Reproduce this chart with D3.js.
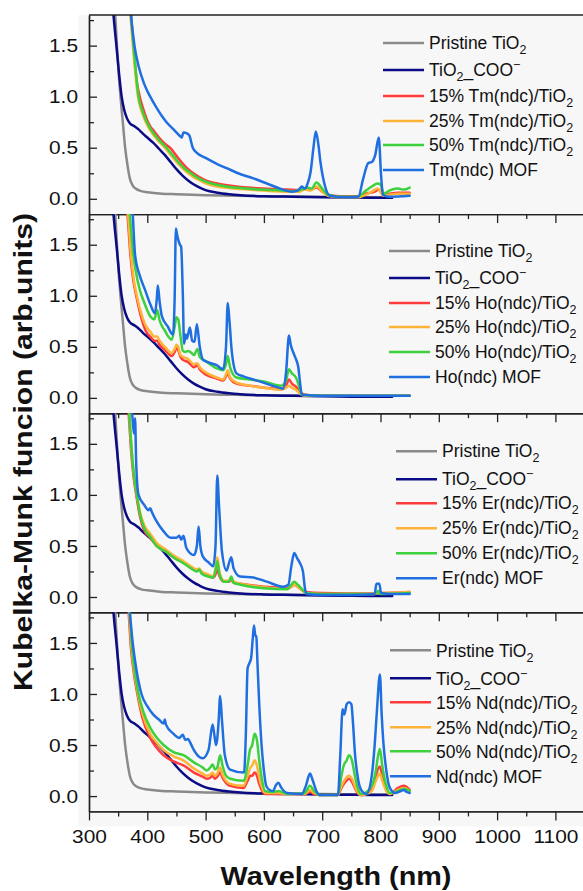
<!DOCTYPE html>
<html><head><meta charset="utf-8">
<script src="https://cdn.jsdelivr.net/npm/d3@7"></script>
<style>
html,body{margin:0;padding:0;background:#fff;}
svg{display:block;font-family:"Liberation Sans",Arial,sans-serif;}
</style>
</head><body>
<svg id="chart" width="583" height="891"></svg>
<script>
// ---------------- DATA (wavelength nm, Kubelka-Munk value) ----------------
const pristine = [[330,3.0],[340,2.3],[345,1.8],[348,1.5],[351,1.22],[354,1.0],[358,0.75],[362,0.5],[366,0.33],[370,0.2],[375,0.13],[380,0.1],[390,0.075],[400,0.065],[425,0.05],[450,0.045],[500,0.035],[550,0.03],[600,0.025],[700,0.02],[800,0.015],[820,0.015]];
const coo = [[330,3.0],[337,2.2],[342,1.8],[347,1.5],[352,1.2],[356,1.0],[360,0.88],[365,0.79],[370,0.74],[378,0.71],[385,0.68],[392,0.64],[400,0.6],[410,0.55],[420,0.49],[430,0.43],[440,0.36],[450,0.29],[460,0.23],[470,0.18],[480,0.14],[490,0.11],[500,0.085],[520,0.06],[540,0.045],[560,0.035],[600,0.025],[650,0.02],[700,0.015],[750,0.012],[800,0.01],[820,0.01]];

const tm15 = [[345,3.0],[360,2.4],[372,1.8],[377,1.45],[382,1.15],[387,1.0],[393,0.88],[399,0.78],[405,0.71],[412,0.66],[420,0.6],[430,0.54],[439,0.5],[450,0.42],[460,0.35],[470,0.29],[479,0.25],[490,0.21],[500,0.18],[520,0.15],[540,0.13],[560,0.115],[600,0.1],[640,0.09],[660,0.085],[670,0.1],[680,0.09],[690,0.11],[700,0.07],[710,0.04],[730,0.025],[760,0.025],[775,0.05],[790,0.07],[797,0.09],[805,0.04],[815,0.05],[830,0.06],[850,0.06]];
const tm25 = [[345,3.0],[360,2.4],[371,1.8],[376,1.45],[380,1.2],[384,1.0],[390,0.86],[396,0.77],[402,0.7],[410,0.63],[420,0.56],[430,0.5],[440,0.43],[450,0.36],[460,0.3],[470,0.25],[480,0.21],[490,0.18],[500,0.15],[520,0.12],[540,0.105],[560,0.095],[600,0.08],[640,0.07],[660,0.07],[670,0.09],[680,0.08],[690,0.12],[700,0.07],[710,0.03],[730,0.015],[760,0.015],[775,0.04],[785,0.07],[795,0.1],[805,0.03],[815,0.04],[830,0.05],[850,0.05]];
const tm50 = [[345,3.0],[360,2.4],[372,1.8],[377,1.45],[381,1.2],[385,1.0],[391,0.87],[397,0.78],[403,0.71],[411,0.64],[421,0.57],[433,0.5],[443,0.43],[453,0.36],[463,0.3],[475,0.25],[485,0.21],[495,0.18],[510,0.15],[530,0.125],[550,0.11],[580,0.095],[620,0.085],[650,0.075],[665,0.09],[675,0.11],[682,0.1],[690,0.16],[700,0.1],[710,0.04],[730,0.02],[760,0.02],[775,0.08],[785,0.12],[795,0.15],[800,0.14],[806,0.05],[815,0.08],[830,0.1],[840,0.09],[850,0.11]];
const tmMOF = [[350,3.0],[365,2.4],[372,1.8],[378,1.5],[385,1.3],[395,1.12],[405,1.0],[415,0.9],[425,0.81],[433,0.75],[445,0.68],[455,0.62],[459,0.6],[462,0.65],[468,0.64],[472,0.62],[478,0.5],[485,0.45],[500,0.4],[520,0.34],[536,0.3],[560,0.24],[582,0.2],[605,0.15],[628,0.1],[648,0.07],[658,0.08],[665,0.12],[670,0.1],[675,0.15],[680,0.26],[685,0.5],[689,0.66],[693,0.55],[697,0.36],[705,0.12],[713,0.03],[740,0.015],[762,0.02],[770,0.19],[779,0.35],[785,0.36],[791,0.43],[797,0.6],[801,0.23],[804,0.04],[815,0.02],[850,0.03]];

const ho15 = [[340,3.0],[357,2.3],[366,1.8],[371,1.4],[376,1.15],[381,1.0],[389,0.8],[397,0.66],[405,0.6],[412,0.56],[417,0.56],[421,0.52],[430,0.47],[442,0.41],[447,0.45],[450,0.49],[453,0.47],[457,0.4],[462,0.37],[470,0.35],[480,0.3],[486,0.32],[490,0.28],[500,0.23],[519,0.19],[530,0.17],[535,0.21],[538,0.25],[542,0.19],[553,0.14],[575,0.12],[600,0.1],[630,0.09],[638,0.12],[643,0.18],[648,0.14],[655,0.11],[662,0.06],[670,0.03],[700,0.02],[850,0.02]];
const ho25 = [[340,3.0],[358,2.3],[367,1.8],[372,1.4],[377,1.15],[382,1.0],[390,0.82],[398,0.7],[405,0.65],[412,0.6],[417,0.6],[421,0.56],[430,0.5],[442,0.44],[447,0.48],[450,0.52],[453,0.5],[457,0.42],[462,0.4],[470,0.38],[480,0.33],[486,0.34],[490,0.3],[500,0.25],[519,0.2],[530,0.18],[535,0.23],[538,0.27],[542,0.2],[553,0.15],[575,0.12],[600,0.1],[630,0.08],[638,0.1],[643,0.12],[648,0.1],[655,0.08],[662,0.04],[670,0.02],[700,0.02],[850,0.02]];
const ho50 = [[345,3.0],[360,2.3],[370,1.8],[375,1.45],[380,1.25],[387,1.06],[395,0.93],[405,0.8],[412,0.77],[417,0.86],[421,0.76],[430,0.66],[442,0.57],[447,0.7],[450,0.79],[453,0.77],[457,0.6],[461,0.46],[465,0.45],[470,0.46],[476,0.44],[480,0.42],[486,0.48],[490,0.4],[500,0.36],[519,0.29],[530,0.27],[535,0.33],[538,0.41],[542,0.3],[553,0.2],[575,0.18],[600,0.16],[630,0.12],[638,0.17],[643,0.28],[648,0.24],[655,0.2],[660,0.12],[665,0.03],[700,0.02],[800,0.02],[850,0.02]];
const hoMOF = [[345,3.0],[365,2.3],[375,1.8],[379,1.4],[387,1.2],[396,1.06],[405,0.92],[413,0.83],[416,0.95],[418,1.1],[421,0.95],[425,0.8],[435,0.7],[444,0.62],[447,1.0],[449,1.66],[451,1.6],[453,1.55],[456,1.5],[458,1.48],[461,1.0],[463,0.53],[466,0.62],[468,0.58],[473,0.69],[477,0.56],[481,0.55],[485,0.72],[490,0.5],[496,0.37],[519,0.32],[530,0.28],[535,0.5],[538,0.93],[541,0.75],[545,0.45],[553,0.24],[565,0.21],[576,0.19],[599,0.15],[620,0.11],[633,0.09],[638,0.25],[643,0.61],[646,0.52],[650,0.45],[655,0.38],[659,0.3],[662,0.15],[665,0.03],[700,0.02],[750,0.02],[800,0.02],[850,0.02]];

const er15 = [[340,3.0],[357,2.3],[368,1.8],[372,1.45],[376,1.2],[381,1.0],[387,0.8],[394,0.66],[405,0.58],[416,0.5],[433,0.44],[447,0.38],[462,0.34],[475,0.29],[485,0.26],[489,0.27],[493,0.24],[505,0.21],[513,0.19],[517,0.22],[520,0.27],[524,0.2],[532,0.15],[540,0.15],[544,0.17],[548,0.14],[560,0.13],[600,0.1],[640,0.09],[647,0.1],[652,0.12],[658,0.1],[665,0.07],[672,0.05],[700,0.04],[790,0.035],[796,0.05],[800,0.04],[850,0.05]];
const er25 = [[340,3.0],[358,2.3],[369,1.8],[373,1.45],[377,1.2],[382,1.0],[388,0.82],[395,0.7],[405,0.62],[416,0.53],[433,0.46],[447,0.4],[462,0.35],[475,0.3],[485,0.27],[489,0.28],[493,0.25],[505,0.22],[513,0.2],[517,0.28],[520,0.39],[524,0.24],[532,0.16],[540,0.16],[544,0.19],[548,0.15],[560,0.13],[600,0.095],[640,0.08],[647,0.1],[652,0.12],[658,0.1],[665,0.07],[672,0.04],[700,0.03],[790,0.03],[796,0.05],[800,0.04],[850,0.05]];
const er50 = [[340,3.0],[358,2.3],[369,1.8],[373,1.45],[377,1.2],[382,1.0],[388,0.8],[395,0.67],[405,0.59],[416,0.5],[433,0.44],[447,0.38],[462,0.33],[475,0.28],[485,0.25],[489,0.27],[493,0.23],[505,0.2],[513,0.19],[517,0.26],[520,0.35],[524,0.22],[532,0.15],[540,0.15],[544,0.2],[548,0.14],[560,0.12],[600,0.085],[640,0.075],[647,0.12],[652,0.15],[658,0.12],[665,0.08],[672,0.04],[700,0.03],[760,0.03],[790,0.03],[796,0.06],[800,0.03],[850,0.04]];
const erMOF = [[345,3.0],[365,2.3],[374,1.8],[377,1.6],[379,1.75],[381,1.3],[385,1.0],[395,0.9],[402,0.85],[405,0.87],[408,0.83],[415,0.75],[427,0.65],[440,0.58],[450,0.58],[455,0.6],[458,0.56],[462,0.6],[467,0.48],[480,0.41],[485,0.5],[488,0.69],[491,0.5],[495,0.4],[505,0.34],[513,0.3],[517,0.5],[520,1.19],[523,0.9],[528,0.45],[536,0.26],[540,0.33],[544,0.39],[548,0.28],[559,0.2],[582,0.19],[605,0.15],[633,0.1],[642,0.12],[647,0.3],[652,0.43],[657,0.38],[662,0.33],[667,0.25],[670,0.1],[673,0.03],[700,0.02],[750,0.02],[790,0.03],[793,0.13],[798,0.13],[801,0.04],[820,0.03],[850,0.03]];

const nd15 = [[340,3.0],[357,2.3],[368,1.8],[372,1.45],[377,1.2],[383,1.0],[391,0.78],[405,0.57],[415,0.48],[428,0.4],[445,0.34],[462,0.3],[480,0.23],[495,0.19],[502,0.17],[508,0.18],[512,0.2],[516,0.17],[520,0.19],[525,0.23],[529,0.18],[535,0.13],[542,0.1],[565,0.08],[572,0.15],[577,0.2],[580,0.2],[584,0.23],[588,0.2],[592,0.12],[597,0.05],[602,0.02],[640,0.02],[670,0.02],[679,0.04],[686,0.02],[696,0.01],[727,0.01],[733,0.08],[740,0.14],[746,0.17],[751,0.14],[756,0.08],[762,0.02],[767,0.01],[785,0.08],[792,0.2],[796,0.27],[799,0.29],[803,0.2],[810,0.06],[816,0.02],[830,0.08],[840,0.1],[850,0.06]];
const nd25 = [[340,3.0],[358,2.3],[369,1.8],[373,1.45],[378,1.2],[384,1.0],[392,0.8],[405,0.61],[415,0.53],[428,0.45],[445,0.39],[462,0.35],[480,0.27],[495,0.22],[502,0.2],[508,0.21],[512,0.23],[516,0.2],[520,0.22],[525,0.28],[529,0.21],[535,0.15],[542,0.12],[565,0.1],[572,0.2],[577,0.28],[580,0.3],[584,0.35],[588,0.3],[592,0.18],[597,0.08],[602,0.03],[625,0.03],[640,0.02],[670,0.02],[679,0.06],[686,0.03],[696,0.01],[727,0.01],[733,0.1],[740,0.17],[746,0.2],[751,0.17],[756,0.1],[762,0.03],[767,0.01],[785,0.05],[792,0.15],[796,0.2],[799,0.22],[803,0.15],[810,0.05],[816,0.02],[830,0.06],[840,0.08],[850,0.05]];
const nd50 = [[340,3.0],[358,2.3],[370,1.8],[374,1.45],[379,1.2],[385,1.0],[393,0.83],[405,0.67],[415,0.58],[428,0.5],[445,0.43],[462,0.4],[480,0.33],[495,0.28],[502,0.25],[508,0.28],[512,0.31],[516,0.26],[520,0.28],[525,0.4],[529,0.3],[535,0.2],[542,0.17],[565,0.15],[572,0.3],[576,0.45],[580,0.5],[584,0.61],[588,0.55],[592,0.35],[597,0.15],[602,0.05],[615,0.04],[625,0.05],[640,0.02],[670,0.03],[679,0.1],[686,0.05],[696,0.01],[727,0.01],[733,0.2],[737,0.3],[742,0.35],[746,0.4],[751,0.35],[756,0.2],[762,0.06],[767,0.02],[785,0.1],[792,0.25],[796,0.4],[799,0.46],[803,0.3],[810,0.1],[816,0.03],[830,0.05],[840,0.07],[850,0.05]];
const ndMOF = [[345,3.0],[362,2.3],[370,1.8],[375,1.5],[381,1.25],[390,1.0],[400,0.88],[410,0.8],[420,0.75],[428,0.71],[430,0.75],[432,0.7],[445,0.61],[455,0.57],[461,0.6],[465,0.55],[470,0.56],[473,0.53],[480,0.45],[490,0.38],[495,0.37],[505,0.45],[512,0.7],[515,0.6],[518,0.5],[522,0.7],[525,0.98],[528,0.75],[533,0.4],[542,0.26],[566,0.23],[569,0.6],[572,1.25],[575,1.3],[578,1.35],[581,1.55],[583,1.67],[585,1.58],[587,1.56],[589,1.3],[592,0.9],[596,0.5],[600,0.25],[604,0.1],[610,0.06],[616,0.05],[620,0.1],[625,0.13],[630,0.08],[640,0.03],[665,0.02],[672,0.1],[679,0.22],[684,0.15],[690,0.05],[696,0.01],[727,0.01],[731,0.4],[735,0.85],[738,0.8],[742,0.9],[746,0.92],[750,0.9],[753,0.7],[756,0.43],[762,0.15],[768,0.05],[776,0.02],[785,0.2],[790,0.5],[794,0.85],[799,1.19],[802,0.8],[805,0.52],[810,0.25],[816,0.08],[825,0.03],[835,0.05],[840,0.06],[845,0.04],[850,0.03]];

const elements = ["Tm","Ho","Er","Nd"];
const panelSeries = [
  [pristine, coo, tm15, tm25, tm50, tmMOF],
  [pristine, coo, ho15, ho25, ho50, hoMOF],
  [pristine, coo, er15, er25, er50, erMOF],
  [pristine, coo, nd15, nd25, nd50, ndMOF]
];
const loadings = ["15%","25%","50%"];
const xTicks = [300,400,500,600,700,800,900,1000,1100];
const xMinorTicks = [350,450,550,650,750,850,950,1050,1150];
const yTicks = [0,0.5,1.0,1.5];
const yTickLabels = ["0.0","0.5","1.0","1.5"];
const yMinorTicks = [0.25,0.75,1.25,1.75];
const xTitle = "Wavelength (nm)";
const yTitle = "Kubelka-Munk funcion (arb.units)";

// ---------------- STYLE / LAYOUT ----------------
const colors = ["#8a8a8a","#0b0b86","#ff3b3b","#ffb339","#3dd13d","#1f6fe0"];
const W = 583, H = 891;
const left = 89, top0 = 15, panelH = 199.1;
const legendPos = [ {x:383, rows:[28,55,81,106,130,155]},
                    {x:389, rows:[37,64,89,113,138,163]},
                    {x:396, rows:[38,66,90,115,140,165]},
                    {x:390, rows:[38,66,90,115,139,164]} ];
const axisColor = "#222";

const svg = d3.select("#chart");
svg.append("rect").attr("x",78).attr("y",top0).attr("width",W-78).attr("height",4*panelH+15).attr("fill","#f7f7f7");

const x = d3.scaleLinear().domain([300,1150]).range([left, left + 850*0.583]);

function legendLabel(el, i){
  const sub = t => ({t, s:"sub"});
  const n = t => ({t, s:null});
  if(i===0) return [n("Pristine TiO"), sub("2")];
  if(i===1) return [n("TiO"), sub("2"), n("_COO"), {t:"\u2212", s:"sup"}];
  if(i<5) return [n(`${loadings[i-2]} ${el}(ndc)/TiO`), sub("2")];
  return [n(`${el}(ndc) MOF`)];
}

panelSeries.forEach((series, p) => {
  const ptop = top0 + p*panelH, pbot = ptop + panelH;
  const y = d3.scaleLinear().domain([-0.15,1.8]).range([pbot, ptop]);
  const g = svg.append("g");
  const clipId = "clip"+p;
  g.append("clipPath").attr("id",clipId).append("rect")
    .attr("x",left).attr("y",ptop).attr("width",W-left).attr("height",panelH);

  const line = d3.line().x(d=>x(d[0])).y(d=>y(d[1])).curve(d3.curveMonotoneX);
  const lg = g.append("g").attr("clip-path",`url(#${clipId})`);
  series.forEach((s,i)=>{
    lg.append("path").datum(s).attr("d",line).attr("fill","none")
      .attr("stroke",colors[i]).attr("stroke-width",2.5)
      .attr("stroke-linejoin","round").attr("stroke-linecap","round");
  });

  // left axis (ticks inward)
  const ya = g.append("g").attr("transform",`translate(${left},0)`)
    .call(d3.axisLeft(y).tickValues(yTicks).tickFormat((d,i)=>yTickLabels[i]).tickSize(-8).tickSizeOuter(0).tickPadding(10));
  ya.append("g").call(d3.axisLeft(y).tickValues(yMinorTicks).tickFormat("").tickSize(-5).tickSizeOuter(0));
  ya.selectAll("path.domain").attr("stroke",axisColor).attr("stroke-width",1.4);
  ya.selectAll("line").attr("stroke",axisColor).attr("stroke-width",1.3);
  ya.selectAll("text").attr("font-size",19).attr("fill","#111")
    .attr("font-family","'Liberation Sans',Arial,sans-serif")
    .attr("transform","scale(1.1,1)");

  // bottom axis (ticks outward)
  const xa = g.append("g").attr("transform",`translate(0,${pbot})`)
    .call(d3.axisBottom(x).tickValues(xTicks).tickSize(9).tickSizeOuter(0)
      .tickFormat(p===3 ? d3.format("d") : ""));
  xa.append("g").call(d3.axisBottom(x).tickValues(xMinorTicks).tickFormat("").tickSize(5).tickSizeOuter(0));
  xa.selectAll("path.domain").attr("stroke",axisColor).attr("stroke-width",1.4);
  xa.selectAll("line").attr("stroke",axisColor).attr("stroke-width",1.3);
  xa.selectAll("text").attr("font-size",19).attr("fill","#111")
    .attr("font-family","'Liberation Sans',Arial,sans-serif")
    .attr("y",32).attr("dy","0").attr("transform","scale(1.1,1)");

  // top border
  if(p===0){
    g.append("line").attr("x1",left).attr("x2",W).attr("y1",ptop).attr("y2",ptop)
      .attr("stroke",axisColor).attr("stroke-width",1.4);
  }

  // legend
  const L = legendPos[p];
  series.forEach((s,i)=>{
    const ry = ptop + L.rows[i];
    g.append("line").attr("x1",L.x).attr("x2",L.x+41).attr("y1",ry).attr("y2",ry)
      .attr("stroke",colors[i]).attr("stroke-width",2.5);
    const t = g.append("text").attr("x",L.x+46).attr("y",ry+6.2)
      .attr("font-size",17.5).attr("fill","#111");
    let shift = 0;
    legendLabel(elements[p], i).forEach(seg=>{
      const ts = t.append("tspan").text(seg.t);
      if(seg.s==="sub"){ ts.attr("dy",5-shift).attr("font-size",12.5); shift=5; }
      else if(seg.s==="sup"){ ts.attr("dy",-7-shift).attr("font-size",12.5); shift=-7; }
      else { if(shift!==0) ts.attr("dy",-shift); shift=0; }
    });
  });
});

// axis titles
svg.append("text").attr("transform","translate(336,885) scale(1.13,1)")
  .attr("text-anchor","middle").attr("font-size",25.5).attr("font-weight","bold")
  .attr("fill","#111").text(xTitle);
svg.append("text").attr("transform","translate(31.5,452) rotate(-90) scale(1.18,1)")
  .attr("text-anchor","middle").attr("font-size",25.5).attr("font-weight","bold")
  .attr("fill","#111").text(yTitle);
</script>
</body></html>
